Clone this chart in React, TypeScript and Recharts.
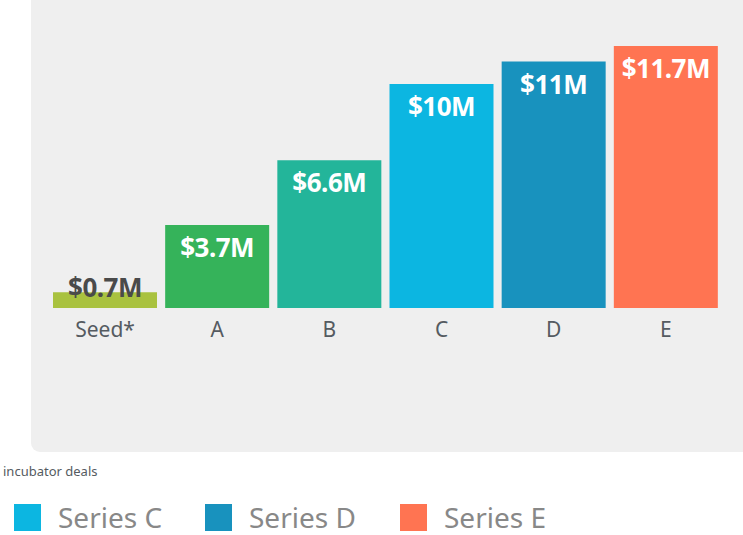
import { BarChart, Bar, XAxis, YAxis, Cell, LabelList } from "recharts";

// Funding rounds and median amounts ($M)
const rounds = ["Seed*", "A", "B", "C", "D", "E"];
const amounts = [0.7, 3.7, 6.6, 10, 11, 11.7];
const valueLabels = ["$0.7M", "$3.7M", "$6.6M", "$10M", "$11M", "$11.7M"];
const barColors = ["#a9c23f", "#35b35a", "#23b59a", "#0cb6e1", "#1892be", "#ff7452"];

// Legend row visible in the crop
const legendNames = ["Series C", "Series D", "Series E"];
const legendColors = ["#0cb6e1", "#1892be", "#ff7452"];
const footnote = "incubator deals";

const FONT = "'Noto Sans', 'Open Sans', sans-serif";

const chartData = rounds.map((round, i) => ({
  round,
  amount: amounts[i],
  label: valueLabels[i],
}));

const RoundTick = ({ x, y, payload }: any) => (
  <text
    x={x}
    y={y + 13}
    textAnchor="middle"
    dominantBaseline="central"
    fill="#555b61"
    fontSize={21}
    fontFamily={FONT}
  >
    {payload.value}
  </text>
);

const ValueLabel = ({ x, y, width, index }: any) => {
  // the seed bar is too short to hold its label, so it sits on top in dark grey
  const small = index === 0;
  return (
    <text
      x={x + width / 2}
      y={small ? y - 5 : y + 22}
      textAnchor="middle"
      dominantBaseline="central"
      fill={small ? "#4a4a4a" : "#ffffff"}
      fontSize={26}
      fontWeight={700}
      fontFamily={FONT}
      letterSpacing={-0.5}
    >
      {valueLabels[index]}
    </text>
  );
};

export default function App() {
  return (
    <div
      style={{
        position: "absolute",
        left: 0,
        top: 0,
        width: 743,
        height: 535,
        overflow: "hidden",
        background: "#ffffff",
        fontFamily: FONT,
      }}
    >
      {/* grey panel */}
      <div
        style={{
          position: "absolute",
          left: 31,
          top: -20,
          width: 740,
          height: 472,
          background: "#efefef",
          borderRadius: 9,
        }}
      />

      <div style={{ position: "absolute", left: 0, top: 0 }}>
        <BarChart
          width={743}
          height={350}
          data={chartData}
          margin={{ top: 0, right: 21, left: 49, bottom: 0 }}
        >
          <XAxis
            dataKey="round"
            axisLine={false}
            tickLine={false}
            tick={<RoundTick />}
            height={42}
            interval={0}
          />
          <YAxis hide domain={[0, 13.75]} />
          <Bar dataKey="amount" barSize={104} isAnimationActive={false}>
            {chartData.map((d, i) => (
              <Cell key={d.round} fill={barColors[i]} />
            ))}
            <LabelList dataKey="label" content={<ValueLabel />} />
          </Bar>
        </BarChart>
      </div>

      {/* footnote (left part lies outside the crop) */}
      <div
        style={{
          position: "absolute",
          left: 3,
          top: 462,
          whiteSpace: "nowrap",
          fontSize: 13,
          color: "#555b61",
        }}
      >
        {footnote}
      </div>

      {/* legend */}
      {legendNames.map((name, i) => (
        <div
          key={name}
          style={{
            position: "absolute",
            left: [14, 205, 400][i],
            top: 498,
            display: "flex",
            alignItems: "center",
            whiteSpace: "nowrap",
          }}
        >
          <div style={{ width: 27, height: 27, background: legendColors[i] }} />
          <span style={{ marginLeft: 17, fontSize: 28, color: "#888888" }}>{name}</span>
        </div>
      ))}
    </div>
  );
}
